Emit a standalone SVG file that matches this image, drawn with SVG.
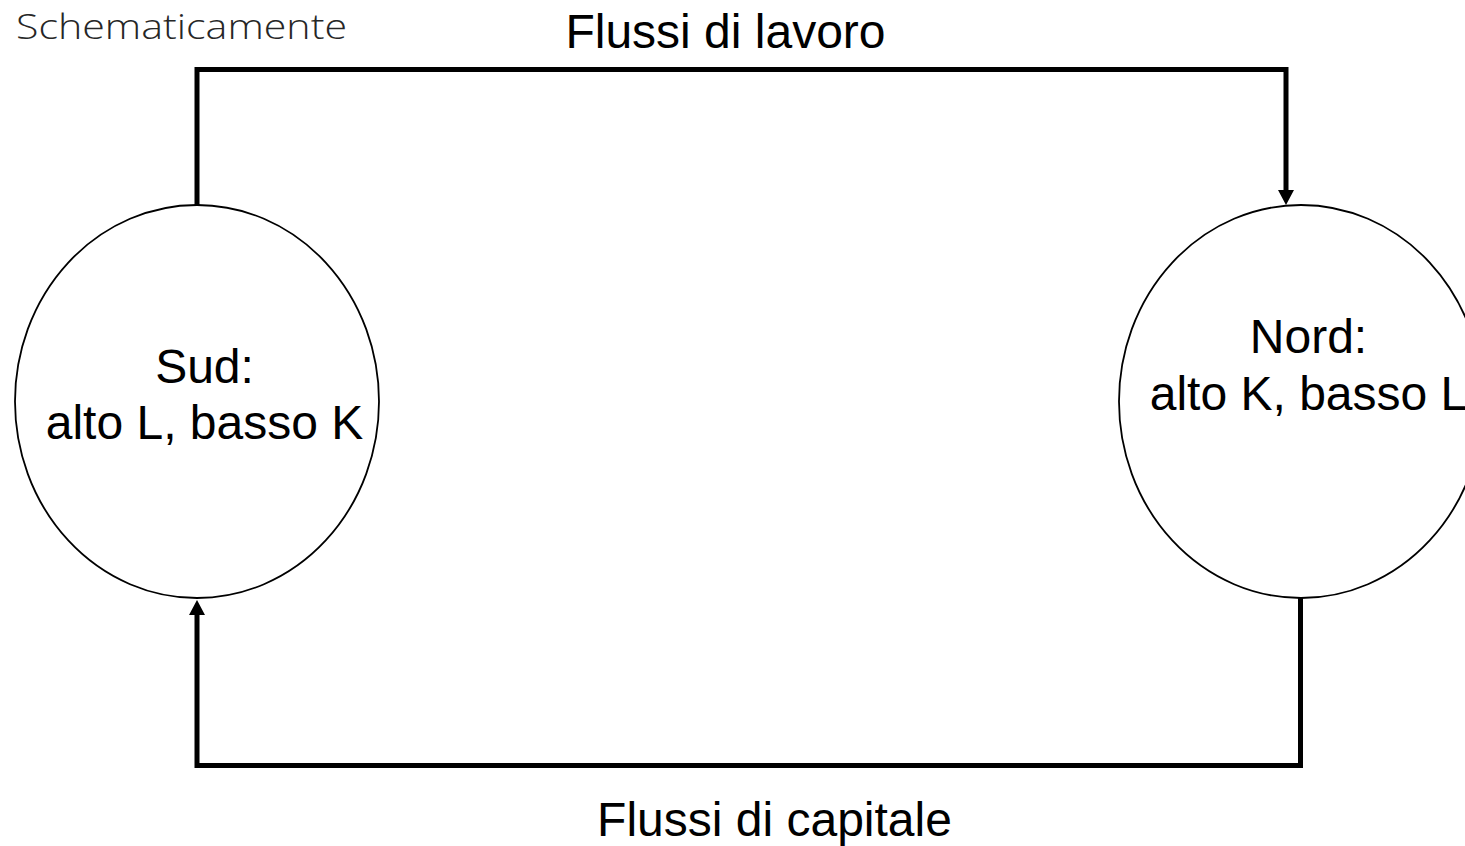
<svg xmlns="http://www.w3.org/2000/svg" width="1465" height="846" viewBox="0 0 1465 846">
  <style>
    .node { fill: #ffffff; stroke: #000000; stroke-width: 1.8; }
    .conn { fill: none; stroke: #000000; stroke-width: 5; stroke-linejoin: miter; }
    .lbl { font-family: "Liberation Sans", Arial, sans-serif; font-size: 48px; fill: #000000; text-anchor: middle; }
    .title { font-family: "Open Sans", "Noto Sans", sans-serif; font-weight: 300; font-size: 34px; fill: #262626; }
  </style>
  <defs>
    <marker id="arrow" viewBox="0 0 15 16" refX="1" refY="8" markerWidth="15" markerHeight="16" markerUnits="userSpaceOnUse" orient="auto">
      <path d="M0,0 L15,8 L0,16 z" fill="#000000"/>
    </marker>
  </defs>
  <rect width="1465" height="846" fill="#ffffff"/>
  <text class="title" x="16" y="39" textLength="331" lengthAdjust="spacingAndGlyphs">Schematicamente</text>
  <g id="connectors">
    <path class="conn" d="M197,205 V69.5 H1286 V191" marker-end="url(#arrow)"/>
    <path class="conn" d="M1300.5,598 V765.5 H197 V614" marker-end="url(#arrow)"/>
    <text class="lbl" x="725.5" y="48">Flussi di lavoro</text>
    <text class="lbl" x="774.5" y="836">Flussi di capitale</text>
  </g>
  <g id="sud">
    <ellipse class="node" cx="197" cy="401.5" rx="182" ry="196.5"/>
    <text class="lbl" x="204.5" y="383">Sud:</text>
    <text class="lbl" x="204.5" y="439">alto L, basso K</text>
  </g>
  <g id="nord">
    <ellipse class="node" cx="1301" cy="401.5" rx="182" ry="196.5"/>
    <text class="lbl" x="1308.5" y="353">Nord:</text>
    <text class="lbl" x="1308.5" y="410">alto K, basso L</text>
  </g>
</svg>
